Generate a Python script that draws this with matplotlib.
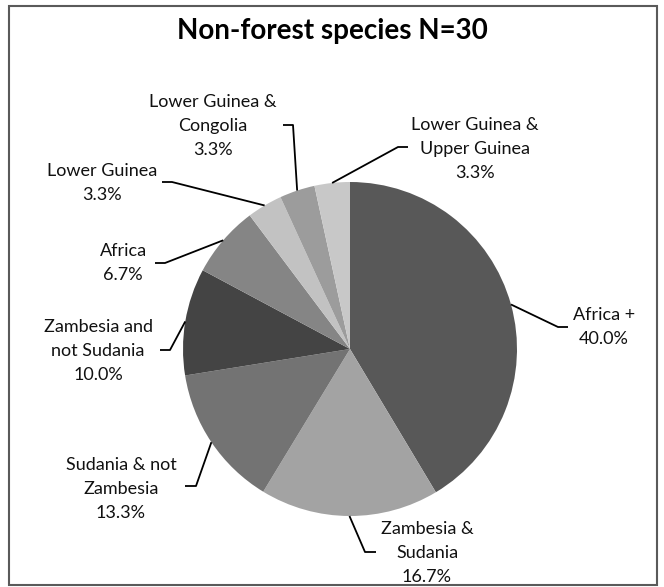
import numpy as np
import matplotlib
matplotlib.use("Agg")
import matplotlib.pyplot as plt
from matplotlib.patches import Rectangle

# data (percent of N=30), clockwise from 12 o'clock
labels = ["Africa +", "Zambesia &\nSudania", "Sudania & not\nZambesia",
          "Zambesia and\nnot Sudania", "Africa", "Lower Guinea",
          "Lower Guinea &\nCongolia", "Lower Guinea &\nUpper Guinea"]
percents = [40.0, 16.7, 13.3, 10.0, 6.7, 3.3, 3.3, 3.3]
colors = ["#585858", "#a3a3a3", "#737373", "#444444",
          "#858585", "#c2c2c2", "#9c9c9c", "#c8c8c8"]

# label layout in pixels (text centre, elbow point, end of horizontal tick)
text_pos = [(604, 327), (427, 553), (121, 489), (98, 351),
            (123, 263), (102, 183), (213, 126), (475, 149)]
elbows = [(558, 327), (365, 552), (196, 486), (170, 350),
          (165, 263), (172, 182), (293, 125), (398, 147)]
ticks = [(568, 327), (376, 552), (185, 486), (160, 350),
         (155, 263), (162, 182), (283, 125), (408, 147)]

W, H = 664, 587
fig = plt.figure(figsize=(W / 100, H / 100), dpi=100)
ax = fig.add_axes([0, 0, 1, 1])

font = "Lato"
cx, cy, r = 350, H - 349, 167
wedges, _ = ax.pie(percents, colors=colors, startangle=90, counterclock=False,
                   center=(cx, cy), radius=r, frame=True,
                   wedgeprops=dict(linewidth=0))
ax.set_xlim(0, W)
ax.set_ylim(0, H)
ax.set_aspect("equal")
ax.axis("off")

for w, lab, pct, tp, el, tk in zip(wedges, labels, percents, text_pos, elbows, ticks):
    ang = np.deg2rad((w.theta1 + w.theta2) / 2)
    x0 = cx + r * np.cos(ang)
    y0 = cy + r * np.sin(ang)
    ax.plot([x0, el[0], tk[0]], [y0, H - el[1], H - tk[1]],
            color="black", lw=1.3, solid_capstyle="butt")
    ax.text(tp[0], H - tp[1], f"{lab}\n{pct:.1f}%", ha="center", va="center",
            fontsize=13, family=font, color="#111111", linespacing=1.6)

ax.text(W / 2, H - 31, "Non-forest species N=30", ha="center", va="center",
        fontsize=20, family=font, fontweight="bold", color="black")

fig.patches.append(Rectangle((9, H - 585), 648, 579, transform=None,
                             fill=False, edgecolor="#5a5a5a", lw=1.5))

fig.savefig("out.png", dpi=100)
